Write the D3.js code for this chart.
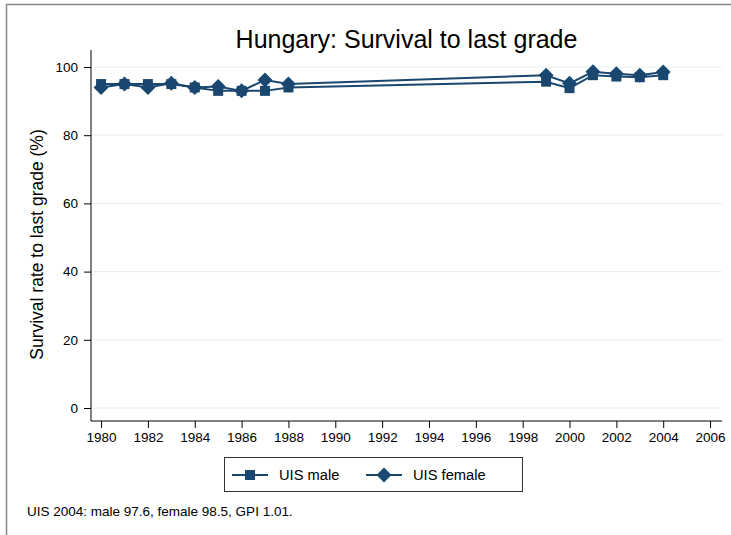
<!DOCTYPE html>
<html>
<head>
<meta charset="utf-8">
<script src="https://cdn.jsdelivr.net/npm/d3@7"></script>
<style>
  body { margin: 0; background: #fff; }
  svg { font-family: "Liberation Sans", Arial, sans-serif; }
</style>
</head>
<body>
<svg id="chart" width="731" height="535"></svg>
<script>
// data
const years = [1980, 1981, 1982, 1983, 1984, 1985, 1986, 1987, 1988, 1999, 2000, 2001, 2002, 2003, 2004];
const male = [95, 95, 95, 95, 94, 93, 93, 93, 94, 95.7, 93.8, 97.6, 97.2, 97, 97.6];
const female = [94, 95, 94, 95.2, 94, 94.3, 93, 96.2, 95, 97.6, 95.2, 98.6, 98, 97.6, 98.5];
const xTicks = [1980, 1982, 1984, 1986, 1988, 1990, 1992, 1994, 1996, 1998, 2000, 2002, 2004, 2006];
const yTicks = [0, 20, 40, 60, 80, 100];
const seriesNames = ["UIS male", "UIS female"];

const navy = "#1a476f";
const svg = d3.select("#chart");

// outer frame
svg.append("rect").attr("x", 6.5).attr("y", 4.5).attr("width", 740).attr("height", 560)
  .attr("fill", "none").attr("stroke", "#888").attr("stroke-width", 1.5);

const margin = {left: 91, right: 722, top: 50, bottom: 421};

const x = d3.scaleLinear().domain([1979.57, 2006.51]).range([margin.left, margin.right]);
const y = d3.scaleLinear().domain([0, 100]).range([408, 67]);

// gridlines
svg.append("g").selectAll("line").data(yTicks).join("line")
  .attr("x1", margin.left).attr("x2", margin.right)
  .attr("y1", d => y(d)).attr("y2", d => y(d))
  .attr("stroke", "#e6eff2").attr("stroke-width", 1);

// axes
const yAxis = svg.append("g").attr("transform", `translate(${margin.left},0)`)
  .call(d3.axisLeft(y).tickValues(yTicks).tickSize(7).tickPadding(6));
yAxis.select(".domain").attr("d", `M0,${margin.top}V${margin.bottom}`);

const xAxis = svg.append("g").attr("transform", `translate(0,${margin.bottom})`)
  .call(d3.axisBottom(x).tickValues(xTicks).tickFormat(d3.format("d")).tickSize(7).tickPadding(4));
xAxis.select(".domain").attr("d", `M${margin.left},0H${margin.right}`);

svg.selectAll(".tick text").attr("font-size", 13.5).attr("fill", "#000")
  .attr("font-family", "Liberation Sans, Arial, sans-serif");
svg.selectAll(".tick line, .domain").attr("stroke", "#000");

// lines
const line = d3.line().x((d, i) => x(years[i])).y(d => y(d));
[male, female].forEach(s => {
  svg.append("path").datum(s).attr("d", line)
    .attr("fill", "none").attr("stroke", navy).attr("stroke-width", 2);
});

// markers: square and a 45° turned square (Stata style diamond)
const sq = "M-5,-5H5V5H-5Z";
const dia = "M0,-7.5L7.5,0L0,7.5L-7.5,0Z";
svg.append("g").selectAll("path").data(male).join("path")
  .attr("transform", (d, i) => `translate(${x(years[i])},${y(d)})`)
  .attr("d", sq).attr("fill", navy);
svg.append("g").selectAll("path").data(female).join("path")
  .attr("transform", (d, i) => `translate(${x(years[i])},${y(d)})`)
  .attr("d", dia).attr("fill", navy);

// title
svg.append("text").attr("x", (margin.left + margin.right) / 2).attr("y", 48)
  .attr("text-anchor", "middle").attr("font-size", 25).text("Hungary: Survival to last grade");

// y label
svg.append("text").attr("transform", `translate(43,${(margin.top + margin.bottom) / 2 + 9}) rotate(-90)`)
  .attr("text-anchor", "middle").attr("font-size", 17.5).text("Survival rate to last grade (%)");

// legend
const lg = svg.append("g");
lg.append("rect").attr("x", 224.5).attr("y", 457.5).attr("width", 298).attr("height", 34)
  .attr("fill", "#fff").attr("stroke", "#333").attr("stroke-width", 1);
const legendItems = [{name: seriesNames[0], sym: sq, x0: 232}, {name: seriesNames[1], sym: dia, x0: 366}];
legendItems.forEach(it => {
  lg.append("line").attr("x1", it.x0).attr("x2", it.x0 + 36).attr("y1", 475).attr("y2", 475)
    .attr("stroke", navy).attr("stroke-width", 2);
  lg.append("path").attr("transform", `translate(${it.x0 + 18},475)`).attr("d", it.sym).attr("fill", navy);
  lg.append("text").attr("x", it.x0 + 47).attr("y", 480).attr("font-size", 14.7).text(it.name);
});

// note
svg.append("text").attr("x", 27).attr("y", 516).attr("font-size", 13.5)
  .text("UIS 2004: male 97.6, female 98.5, GPI 1.01.");
</script>
</body>
</html>
